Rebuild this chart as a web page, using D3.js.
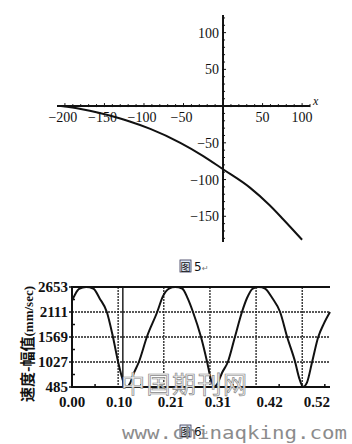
<!DOCTYPE html>
<html>
<head>
<meta charset="utf-8">
<script src="https://cdn.jsdelivr.net/npm/d3@7"></script>
<style>
  body { margin: 0; background: #fff; }
  svg { display: block; }
</style>
</head>
<body>
<svg id="chart" width="352" height="444"></svg>
<script>
// fig 5 - curve
const curveX = [-205, -180, -156, -130, -118, -92, -54, -25, 0, 34, 59, 76, 100];
const curveY = [0, -4, -9.5, -17, -21, -31, -50, -68, -86, -111, -135, -154, -182];
const xTicks5 = [-200, -150, -100, -50, 50, 100];
const yTicks5 = [100, 50, -50, -100, -150];

// fig 6 - velocity amplitude vs time
const timeT = [0.000, 0.006, 0.015, 0.030, 0.045, 0.059, 0.074, 0.087, 0.098, 0.106, 0.113, 0.117,
  0.123, 0.132, 0.142, 0.159, 0.181, 0.193, 0.206, 0.219, 0.234, 0.246, 0.257, 0.274, 0.287,
  0.295, 0.302, 0.308, 0.319, 0.331, 0.346, 0.361, 0.372, 0.384, 0.397, 0.410, 0.425, 0.442,
  0.457, 0.474, 0.482, 0.491, 0.499, 0.510, 0.523, 0.535, 0.548];
const speedV = [2360, 2480, 2610, 2653, 2620, 2400, 2111, 1569, 1027, 700, 500, 485,
  560, 800, 1027, 1569, 2111, 2450, 2620, 2653, 2620, 2400, 2111, 1569, 1027,
  650, 490, 540, 800, 1027, 1569, 2111, 2420, 2620, 2653, 2620, 2420, 2111,
  1569, 1027, 700, 490, 580, 1027, 1569, 1860, 2111];
const yTicks6 = [485, 1027, 1569, 2111, 2653];
const xTicks6 = [0.00, 0.10, 0.21, 0.31, 0.42, 0.52];
const gridT = [0.098, 0.195, 0.293, 0.391, 0.489];
const cursorT = 0.108;

const svg = d3.select("#chart");
const ink = "#111";
const serif = "'Liberation Serif', 'DejaVu Serif', serif";

// ---------- fig 5 ----------
let x5 = d3.scaleLinear().domain([-210, 110]).range([57, 310]);
let y5 = d3.scaleLinear().domain([124, -185]).range([15, 242]);

let g5 = svg.append("g");

// minor ticks every 10 units
g5.selectAll(".mx").data(d3.range(-200, 111, 10))
  .enter().append("line")
  .attr("x1", d => x5(d)).attr("x2", d => x5(d))
  .attr("y1", d => y5(0) - (d % 50 === 0 ? 3 : 2)).attr("y2", y5(0) + 1)
  .attr("stroke", ink).attr("stroke-width", 1);
g5.selectAll(".my").data(d3.range(-180, 121, 10))
  .enter().append("line")
  .attr("y1", d => y5(d)).attr("y2", d => y5(d))
  .attr("x1", x5(0) - 1).attr("x2", d => x5(0) + (d % 50 === 0 ? 3 : 2))
  .attr("stroke", ink).attr("stroke-width", 1);

g5.append("line")
  .attr("x1", x5(-210)).attr("x2", x5(110))
  .attr("y1", y5(0)).attr("y2", y5(0))
  .attr("stroke", ink).attr("stroke-width", 2);
g5.append("line")
  .attr("x1", x5(0)).attr("x2", x5(0))
  .attr("y1", y5(124)).attr("y2", y5(-185))
  .attr("stroke", ink).attr("stroke-width", 2);

g5.selectAll(".xl").data(xTicks5)
  .enter().append("text")
  .attr("x", d => x5(d) + (d < 0 ? -2 : 0))
  .attr("y", y5(0) + 16)
  .attr("text-anchor", "middle")
  .style("font-family", serif).style("font-size", "14px").style("fill", ink)
  .text(d => d < 0 ? "\u2212" + Math.abs(d) : d);

g5.selectAll(".yl").data(yTicks5)
  .enter().append("text")
  .attr("x", x5(0) - 4)
  .attr("y", d => y5(d) + 5)
  .attr("text-anchor", "end")
  .style("font-family", serif).style("font-size", "14px").style("fill", ink)
  .text(d => d < 0 ? "\u2212" + Math.abs(d) : d);

g5.append("text")
  .attr("x", 313).attr("y", 105)
  .style("font-family", serif).style("font-size", "12px").style("font-style", "italic")
  .style("fill", ink)
  .text("x");

let line5 = d3.line()
  .x((d, i) => x5(curveX[i]))
  .y(d => y5(d))
  .curve(d3.curveMonotoneX);

g5.append("path")
  .datum(curveY)
  .attr("d", line5)
  .attr("fill", "none")
  .attr("stroke", ink)
  .attr("stroke-width", 2);

// ---------- captions ----------
function caption(cx, by, num) {
  let g = svg.append("g");
  g.append("rect")
    .attr("x", cx - 13).attr("y", by - 11).attr("width", 11).attr("height", 12)
    .attr("fill", "#dfe9f7").attr("stroke", "#335").attr("stroke-width", 0.8);
  g.append("text")
    .attr("x", cx - 12.5).attr("y", by - 0.5)
    .style("font-family", "'Noto Sans CJK SC', sans-serif").style("font-size", "10px")
    .style("fill", ink).text("图");
  g.append("text")
    .attr("x", cx + 1).attr("y", by)
    .style("font-family", "'DejaVu Sans', sans-serif").style("font-size", "12px")
    .style("fill", ink).text(num);
  g.append("text")
    .attr("x", cx + 9).attr("y", by)
    .style("font-family", "'DejaVu Sans', sans-serif").style("font-size", "8px")
    .style("fill", "#777").text("\u21b5");
}
caption(193, 271, "5");
caption(193, 436, "6");

// ---------- fig 6 ----------
let x6 = d3.scaleLinear().domain([0, 0.548]).range([72, 330]);
let y6 = d3.scaleLinear().domain([485, 2653]).range([387, 287]);

let g6 = svg.append("g");

// dotted horizontal grid
g6.selectAll(".hg").data(yTicks6.slice(1, 4))
  .enter().append("line")
  .attr("x1", x6(0)).attr("x2", x6(0.548))
  .attr("y1", d => y6(d)).attr("y2", d => y6(d))
  .attr("stroke", "#222").attr("stroke-width", 1.6)
  .attr("stroke-dasharray", "2,1");

// dotted vertical grid
g6.selectAll(".vg").data(gridT)
  .enter().append("line")
  .attr("x1", d => x6(d)).attr("x2", d => x6(d))
  .attr("y1", y6(2653)).attr("y2", y6(485))
  .attr("stroke", "#222").attr("stroke-width", 1.3)
  .attr("stroke-dasharray", "2,1");

g6.append("line")
  .attr("x1", x6(cursorT)).attr("x2", x6(cursorT))
  .attr("y1", y6(2653)).attr("y2", y6(485))
  .attr("stroke", ink).attr("stroke-width", 1.4);

// top line and axes
g6.append("line")
  .attr("x1", x6(0)).attr("x2", x6(0.548))
  .attr("y1", y6(2653)).attr("y2", y6(2653))
  .attr("stroke", ink).attr("stroke-width", 2);
g6.append("line")
  .attr("x1", x6(0)).attr("x2", x6(0.548))
  .attr("y1", y6(485)).attr("y2", y6(485))
  .attr("stroke", ink).attr("stroke-width", 2);
g6.append("line")
  .attr("x1", x6(0)).attr("x2", x6(0))
  .attr("y1", y6(2653) - 1).attr("y2", y6(485) + 1)
  .attr("stroke", ink).attr("stroke-width", 2);

// minor ticks
g6.selectAll(".mt").data(gridT.map(d => d - 0.049).concat([0.537]))
  .enter().append("line")
  .attr("x1", d => x6(d)).attr("x2", d => x6(d))
  .attr("y1", y6(485) - 3).attr("y2", y6(485))
  .attr("stroke", ink).attr("stroke-width", 1.5);
g6.selectAll(".mty").data(d3.pairs(yTicks6).map(p => (p[0] + p[1]) / 2))
  .enter().append("line")
  .attr("x1", x6(0)).attr("x2", x6(0) + 3)
  .attr("y1", d => y6(d)).attr("y2", d => y6(d))
  .attr("stroke", ink).attr("stroke-width", 1.5);
// tick stubs left of the axis
g6.selectAll(".ty").data(yTicks6)
  .enter().append("line")
  .attr("x1", x6(0) - 3).attr("x2", x6(0))
  .attr("y1", d => y6(d)).attr("y2", d => y6(d))
  .attr("stroke", ink).attr("stroke-width", 1.5);

g6.selectAll(".yl").data(yTicks6)
  .enter().append("text")
  .attr("x", 68)
  .attr("y", d => y6(d) + 5)
  .attr("text-anchor", "end")
  .style("font-family", serif).style("font-size", "15px").style("font-weight", "bold")
  .style("fill", ink)
  .text(d => d);

g6.selectAll(".xl").data(xTicks6)
  .enter().append("text")
  .attr("x", d => x6(d))
  .attr("y", 407)
  .attr("text-anchor", "middle")
  .style("font-family", serif).style("font-size", "15px").style("font-weight", "bold")
  .style("fill", ink)
  .text(d => d.toFixed(2));

let title = g6.append("text")
  .attr("transform", "translate(33,344) rotate(-90)")
  .attr("text-anchor", "middle")
  .style("fill", ink);
title.append("tspan")
  .style("font-family", "'Noto Sans CJK SC', sans-serif")
  .style("font-size", "15px").style("font-weight", "bold")
  .text("速度-幅值");
title.append("tspan")
  .style("font-family", serif)
  .style("font-size", "13px").style("font-weight", "bold")
  .text("(mm/sec)");

let line6 = d3.line()
  .x((d, i) => x6(timeT[i]))
  .y(d => y6(d))
  .curve(d3.curveMonotoneX);

g6.append("path")
  .datum(speedV)
  .attr("d", line6)
  .attr("fill", "none")
  .attr("stroke", ink)
  .attr("stroke-width", 2);

// watermarks
svg.append("text")
  .attr("x", 121).attr("y", 393)
  .attr("textLength", 126)
  .style("font-family", "'Noto Sans CJK SC', sans-serif")
  .style("font-size", "24px")
  .style("fill", "#f2f2f2").style("stroke", "#8a8a8a").style("stroke-width", 0.7)
  .text("中国期刊网");

svg.append("text")
  .attr("x", 122).attr("y", 439)
  .attr("textLength", 225)
  .attr("lengthAdjust", "spacingAndGlyphs")
  .style("font-family", "'DejaVu Sans Mono', monospace")
  .style("font-size", "18px")
  .style("fill", "#8c8c8c")
  .text("www.chinaqking.com");
</script>
</body>
</html>
